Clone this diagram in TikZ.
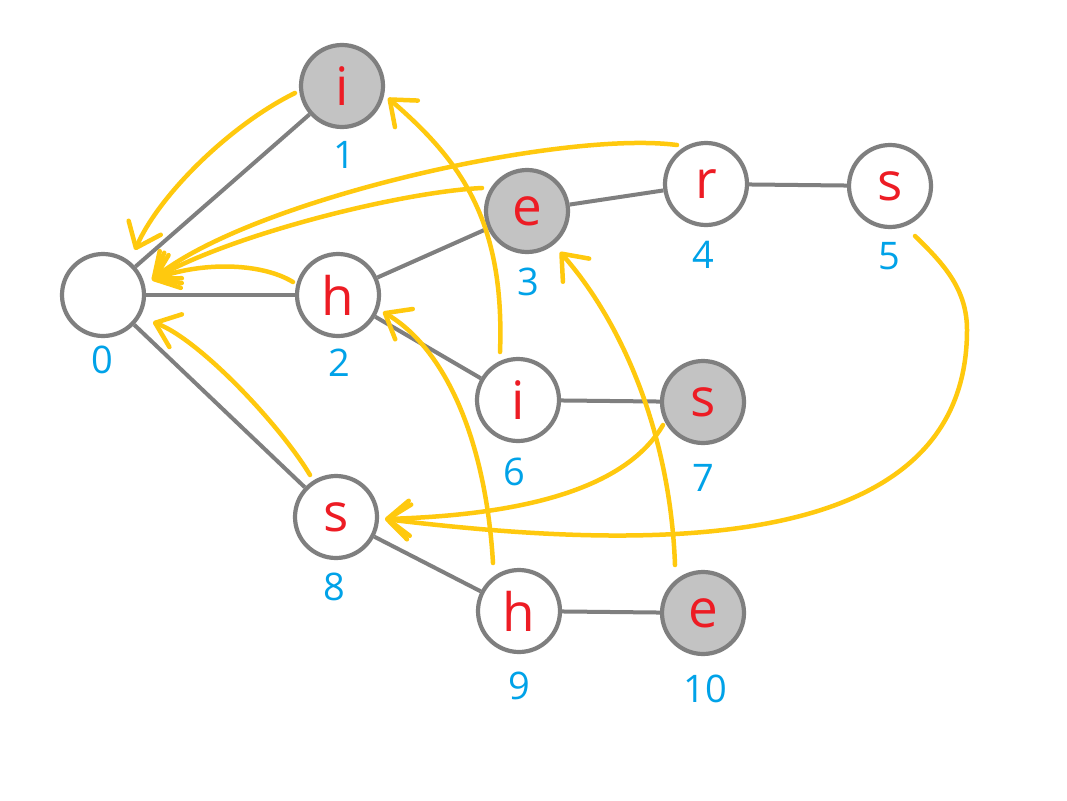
\documentclass[tikz,border=0pt]{standalone}
\usepackage{fontspec}
\setmainfont{Open Sans}
\usetikzlibrary{arrows.meta,calc}
\definecolor{edgegray}{HTML}{7F7F7F}
\definecolor{acfill}{HTML}{C3C3C3}
\definecolor{letterred}{HTML}{ED1C24}
\definecolor{idblue}{HTML}{00A2E8}
\definecolor{failgold}{HTML}{FFC90E}
\begin{document}
\begin{tikzpicture}[x=1pt,y=-1pt,
 state/.style={circle,draw=edgegray,line width=4.2pt,fill=white,minimum size=82pt,inner sep=0pt,text=letterred,font=\fontsize{53}{60}\selectfont},
 final/.style={state,fill=acfill},
 idlabel/.style={text=idblue,font=\fontsize{38}{44}\selectfont,inner sep=0pt},
 trie/.style={draw=edgegray,line width=4pt},
 fail/.style={draw=failgold,line width=4.5pt,line cap=round,-{Straight Barb[length=22pt,width=35pt,round]}}]
\fill[white] (0,0) rectangle (1067,800);
\useasboundingbox (0,0) rectangle (1067,800);
% states
\node[state] (n0) at (103,295) {};
\node[final] (n1) at (342,86) {i};
\node[state] (n2) at (338,295) {h};
\node[final] (n3) at (527,211) {e};
\node[state] (n4) at (706,184) {r};
\node[state] (n5) at (890,186) {s};
\node[state] (n6) at (518,400) {i};
\node[final] (n7) at (703,402) {s};
\node[state] (n8) at (336,517) {s};
\node[state] (n9) at (519,611) {h};
\node[final] (n10) at (703,613) {e};
% numbers
\node[idlabel] (l0) at (102,360) {0};
\node[idlabel] (l1) at (344,155) {1};
\node[idlabel] (l2) at (339,363) {2};
\node[idlabel] (l3) at (528,282) {3};
\node[idlabel] (l4) at (703,255) {4};
\node[idlabel] (l5) at (889,256) {5};
\node[idlabel] (l6) at (514,472) {6};
\node[idlabel] (l7) at (703,478) {7};
\node[idlabel] (l8) at (334,587) {8};
\node[idlabel] (l9) at (519,686) {9};
\node[idlabel] (l10) at (705,689) {10};
% trie edges
\draw[trie] (n0) -- (n1);
\draw[trie] (n0) -- (n2);
\draw[trie] (n0) -- (n8);
\draw[trie] (n2) -- (n3);
\draw[trie] (n2) -- (n6);
\draw[trie] (n3) -- (n4);
\draw[trie] (n4) -- (n5);
\draw[trie] (n6) -- (n7);
\draw[trie] (n8) -- (n9);
\draw[trie] (n9) -- (n10);
% fail links
\draw[fail] ($(n1)+(-47,7)$) .. controls +(-65,32) and +(24,-55) .. ($(n0)+(32,-45)$);
\draw[fail] ($(n4)+(-29,-39)$) .. controls +(-117,-15) and +(98,-80) .. ($(n0)+(49,-15)$);
\draw[fail] ($(n3)+(-45,-23)$) .. controls +(-82,4) and +(78,-45) .. ($(n0)+(49,-15)$);
\draw[fail] ($(n2)+(-45,-13)$) .. controls +(-33,-20) and +(48,-18) .. ($(n0)+(49,-15)$);
\draw[fail] ($(n8)+(-26,-42)$) .. controls +(-30,-50) and +(47,18) .. ($(n0)+(50,27)$);
\draw[fail] ($(n6)+(-18,-48)$) .. controls +(5,-132) and +(72,62) .. ($(n1)+(46,12)$);
\draw[fail] ($(n9)+(-26,-48)$) .. controls +(-8,-133) and +(57,33) .. ($(n2)+(45,17)$);
\draw[fail] ($(n10)+(-28,-48)$) .. controls +(-5,-135) and +(60,68) .. ($(n3)+(33,41)$);
\draw[fail] ($(n7)+(-40,23)$) .. controls +(-38,65) and +(135,-4) .. ($(n8)+(49,2)$);
\draw[fail] ($(n5)+(25,50)$) .. controls +(30,29) and +(0,-40) .. ($(n5)+(77,144)$) .. controls +(0,230) and +(255,31) .. ($(n8)+(49,2)$);
\end{tikzpicture}
\end{document}
